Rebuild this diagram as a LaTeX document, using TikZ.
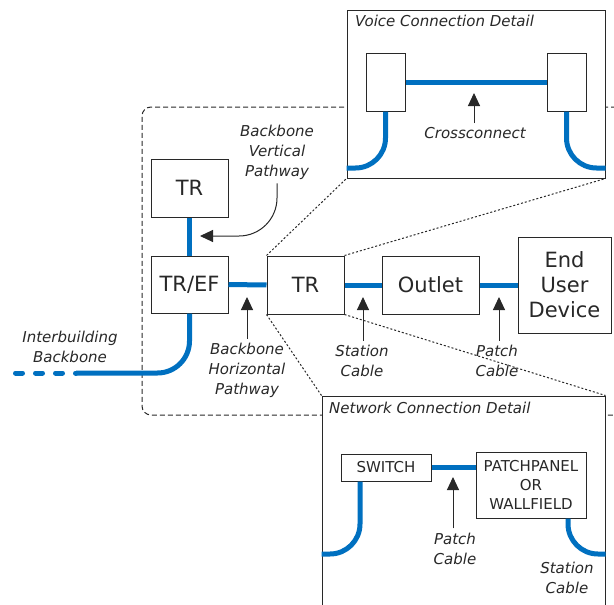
\documentclass[tikz,border=0pt]{standalone}
\usepackage{fontspec}
\setmainfont{DejaVu Sans}
\usetikzlibrary{positioning}
\usetikzlibrary{arrows.meta}
\definecolor{cableblue}{RGB}{0,112,192}
\definecolor{ink}{RGB}{40,40,40}

\begin{document}
\begin{tikzpicture}[x=1pt, y=-1pt,
		box/.style={draw=ink, line width=1pt, fill=white, text=ink, font=\fontsize{21}{25}\selectfont, align=center, inner sep=0pt},
		smallbox/.style={box, font=\fontsize{15}{19}\selectfont},
		cable/.style={cableblue, line width=5pt},
		pointer/.style={ink, line width=1pt, -{Triangle[length=13pt, width=12pt]}},
		lbl/.style={text=ink, font=\fontsize{15}{20}\selectfont\itshape, align=center, inner sep=4pt},
		title/.style={text=ink, font=\fontsize{15}{20}\selectfont\itshape, anchor=west, inner sep=0pt},
		zoomline/.style={ink, line width=1pt, dash pattern=on 2pt off 2pt}]
	\useasboundingbox (0,0) rectangle (614,605);
	\clip (0,0) rectangle (614,605);
	
	% building outline
	\draw[ink, line width=1pt, dash pattern=on 5pt off 3pt, rounded corners=9pt] (640,107) -- (142,107) -- (142,415) -- (640,415);
	
	% detail frames
	\node[draw=ink, line width=1pt, fill=white, minimum width=258, minimum height=168] (voice) at (476,94) {};
	\node[draw=ink, line width=1pt, fill=white, minimum width=283, minimum height=244] (network) at (463.5,518) {};
	\node[title] (voicetitle) at (355,21) {Voice Connection Detail};
	\node[title] (nettitle) at (329,408) {Network Connection Detail};
	
	% main boxes
	\node[box, minimum width=77, minimum height=58] (trtop) at (189.5,188) {TR};
	\node[box, minimum width=77, minimum height=57] (tref) at (189.5,284.5) {TR/EF};
	\node[box, minimum width=77, minimum height=58] (trmid) at (305.5,285) {TR};
	\node[box, minimum width=97, minimum height=58] (outlet) at (430.5,285) {Outlet};
	\node[box, minimum width=93, minimum height=96] (enduser) at (564.5,285) {End\\User\\Device};
	
	% zoom lines
	\draw[zoomline] (trmid.north west) -- (voice.south west);
	\draw[zoomline] (trmid.north east) -- (voice.south east);
	\draw[zoomline] (trmid.south west) -- (network.north west);
	\draw[zoomline] (trmid.south east) -- (network.north east);
	
	% cables
	\draw[cable] (trtop) -- (tref);
	\draw[cable] (tref) -- (trmid);
	\draw[cable] (trmid) -- (outlet);
	\draw[cable] (outlet) -- (enduser);
	\coordinate (ibend) at (76,373);
	\coordinate (ibstart) at (15.5,373);
	\draw[cable, rounded corners=32pt] (tref.south) |- (ibend);
	\draw[cable, line cap=round, dash pattern=on 7pt off 13pt] (ibstart) -- (ibend);
	
	% voice detail
	\node[box, minimum width=39, minimum height=58] (vleft) at (385.5,82) {};
	\node[box, minimum width=39, minimum height=58] (vright) at (566.5,82) {};
	\draw[cable] (vleft) -- (vright);
	\draw[cable, rounded corners=30pt] (vleft.south) |- (voice.south west |- 0,168);
	\draw[cable, rounded corners=30pt] (vright.south) |- (voice.south east |- 0,168);
	
	% network detail
	\node[smallbox, minimum width=90, minimum height=27] (switch) at (386,467.5) {SWITCH};
	\node[smallbox, minimum width=110, minimum height=66] (patchpanel) at (531,485) {PATCHPANEL\\OR\\WALLFIELD};
	\draw[cable] (switch.east) -- (switch.east -| patchpanel.west);
	\draw[cable, rounded corners=30pt] ([xshift=-26pt]switch.south) |- (network.west |- 0,554);
	\draw[cable, rounded corners=30pt] ([xshift=37pt]patchpanel.south) |- (network.east |- 0,554);
	
	% labels
	\node[lbl] (bvp) at (277,152) {Backbone\\Vertical\\Pathway};
	\node[lbl] (bhp) at (247,370) {Backbone\\Horizontal\\Pathway};
	\node[lbl] (ib) at (70,347) {Interbuilding\\Backbone};
	\node[lbl] (station) at (362,361) {Station\\Cable};
	\node[lbl] (patch) at (497,361) {Patch\\Cable};
	\node[lbl] (cross) at (475,133) {Crossconnect};
	\node[lbl] (netpatch) at (455,548.5) {Patch\\Cable};
	\node[lbl] (netstation) at (567,577.5) {Station\\Cable};
	
	% pointers
	\coordinate (bvptip) at (200,236);
	\coordinate (bhptip) at (247,297);
	\coordinate (stationtip) at (363,297);
	\coordinate (patchtip) at (499,297);
	\coordinate (crosstip) at (474,93);
	\coordinate (netpatchtip) at (453,477);
	\draw[pointer, rounded corners=38pt] (bvp.south) |- (bvptip);
	\draw[pointer] (bhp.north) -- (bhptip);
	\draw[pointer] (station.north -| stationtip) -- (stationtip);
	\draw[pointer] (patch.north -| patchtip) -- (patchtip);
	\draw[pointer] (cross.north -| crosstip) -- (crosstip);
	\draw[pointer] (netpatch.north -| netpatchtip) -- (netpatchtip);
\end{tikzpicture}
\end{document}
